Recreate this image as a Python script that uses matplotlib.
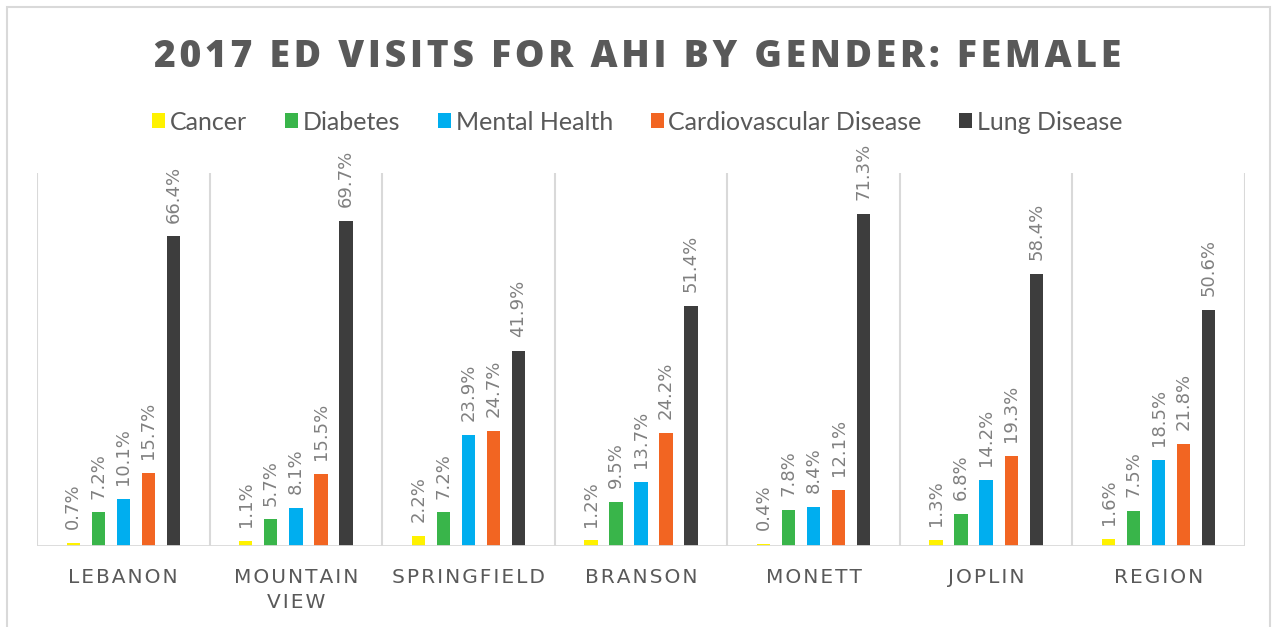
import numpy as np
import matplotlib.pyplot as plt
from matplotlib.patches import Rectangle, Patch

# ED visit shares (%) by condition, female patients, 2017
locations = ['LEBANON', 'MOUNTAIN\nVIEW', 'SPRINGFIELD', 'BRANSON', 'MONETT', 'JOPLIN', 'REGION']
series = ['Cancer', 'Diabetes', 'Mental Health', 'Cardiovascular Disease', 'Lung Disease']
cancer = [0.7, 1.1, 2.2, 1.2, 0.4, 1.3, 1.6]
diabetes = [7.2, 5.7, 7.2, 9.5, 7.8, 6.8, 7.5]
mental_health = [10.1, 8.1, 23.9, 13.7, 8.4, 14.2, 18.5]
cardiovascular = [15.7, 15.5, 24.7, 24.2, 12.1, 19.3, 21.8]
lung = [66.4, 69.7, 41.9, 51.4, 71.3, 58.4, 50.6]

colors = ['#FFF200', '#39B54A', '#00AEEF', '#F26522', '#3D3D3D']
values = [cancer, diabetes, mental_health, cardiovascular, lung]


def spaced(s, sep='\u200a'):
    # emulate letter spacing with hair spaces
    return '\n'.join(sep.join(line) for line in s.split('\n'))


fig = plt.figure(figsize=(12.75, 6.27), dpi=100)
W, H = 1275, 627

# outer chart frame
fig.patches.append(Rectangle((7 / W, -0.1), (1270 - 7) / W, 1.1 - 7 / H,
                             transform=fig.transFigure, fill=False,
                             edgecolor='#D9D9D9', linewidth=1.5))

ax = fig.add_axes([37 / W, (H - 546) / H, (1245 - 37) / W, (546 - 173) / H])
x = np.arange(len(locations))
bar_w = 0.077
step = 0.145

for k, (vals, col) in enumerate(zip(values, colors)):
    pos = x + (k - 2) * step
    ax.bar(pos, vals, width=bar_w, color=col, zorder=3)
    for px, v in zip(pos, vals):
        ax.annotate(f'{v:.1f}%', (px, v), xytext=(0, 10), textcoords='offset points',
                    rotation=90, ha='center', va='bottom',
                    fontsize=13, color='#808080', family='DejaVu Sans')

ax.set_xlim(-0.5, len(locations) - 0.5)
ax.set_ylim(0, 80)
ax.vlines(np.arange(len(locations) + 1) - 0.5, 0, 80, color='#D9D9D9', linewidth=1.5, zorder=1)
ax.axhline(0, color='#D9D9D9', linewidth=2, zorder=4)
for s in ax.spines.values():
    s.set_visible(False)
ax.set_yticks([])
ax.set_xticks(x)
ax.set_xticklabels([spaced(l) for l in locations], fontsize=14.5, color='#595959',
                   linespacing=1.4, family='DejaVu Sans')
ax.tick_params(axis='x', length=0, pad=16)

fig.text(0.5, (H - 67) / H, spaced('2017 ED VISITS FOR AHI BY GENDER: FEMALE'),
         ha='center', va='baseline', fontsize=26.8, fontweight='heavy',
         color='#595959', family=['Open Sans', 'DejaVu Sans'])

handles = [Patch(facecolor=c, edgecolor='none') for c in colors]
fig.legend(handles, series, loc='center', bbox_to_anchor=(0.5, (H - 122) / H), ncol=5,
           frameon=False, handlelength=0.52, handleheight=0.52, handletextpad=0.2,
           columnspacing=1.5, prop={'family': 'Lato', 'size': 18},
           labelcolor='#595959')

fig.savefig('out.png', dpi=100)
